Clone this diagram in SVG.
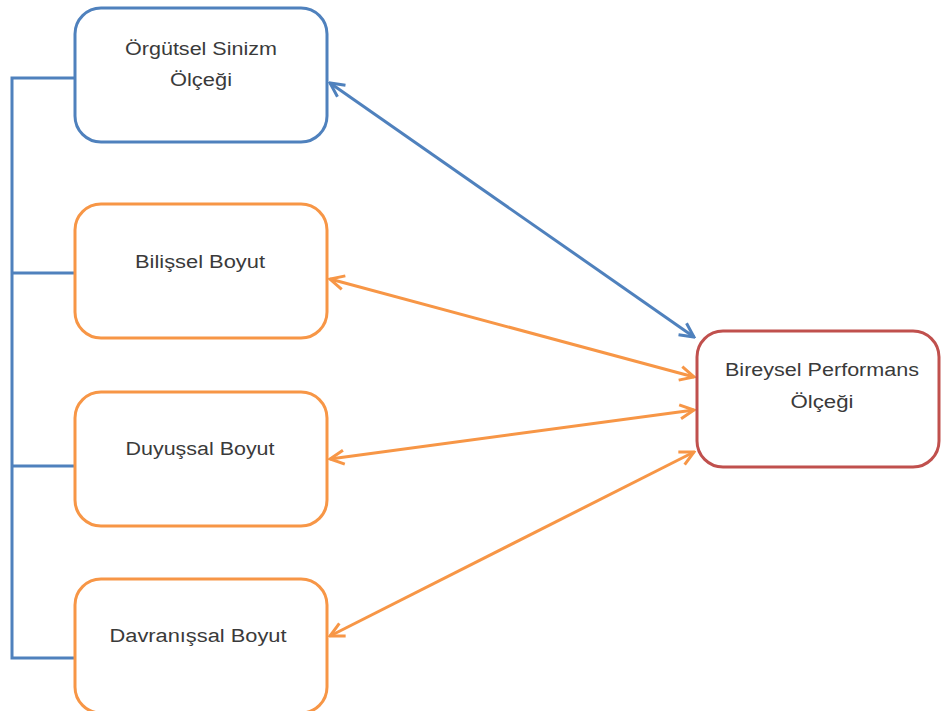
<svg xmlns="http://www.w3.org/2000/svg" width="941" height="711" viewBox="0 0 941 711">
<defs>
<style>
.box{fill:#fff;stroke-width:3}
.blue{stroke:#4f81bd}
.orange{stroke:#f79646}
.red{stroke:#c0504d}
.lbl{font-family:"Liberation Sans","DejaVu Sans",sans-serif;font-size:18px;fill:#3a3a3a;text-anchor:middle}
.bus{fill:none;stroke:#4f81bd;stroke-width:3}
.con{fill:none;stroke-width:3}
</style>
<marker id="ab" viewBox="0 0 20 20" refX="18" refY="10" markerWidth="20" markerHeight="20" markerUnits="userSpaceOnUse" orient="auto-start-reverse">
<path d="M4,3 L18,10 L4,17" fill="none" stroke="#4f81bd" stroke-width="3" stroke-linejoin="miter"/>
</marker>
<marker id="ao" viewBox="0 0 20 20" refX="18" refY="10" markerWidth="20" markerHeight="20" markerUnits="userSpaceOnUse" orient="auto-start-reverse">
<path d="M4,3 L18,10 L4,17" fill="none" stroke="#f79646" stroke-width="3" stroke-linejoin="miter"/>
</marker>
</defs>
<rect width="941" height="711" fill="#fff"/>
<g id="connectors">
<path class="bus" d="M75,78 H12 V658 H75 M12,273 H75 M12,466 H75"/>
<line class="con" stroke="#4f81bd" x1="330" y1="83" x2="694" y2="337" marker-start="url(#ab)" marker-end="url(#ab)"/>
<line class="con" stroke="#f79646" x1="330" y1="279" x2="694" y2="377" marker-start="url(#ao)" marker-end="url(#ao)"/>
<line class="con" stroke="#f79646" x1="330" y1="459" x2="694" y2="410" marker-start="url(#ao)" marker-end="url(#ao)"/>
<line class="con" stroke="#f79646" x1="330" y1="636" x2="694" y2="452" marker-start="url(#ao)" marker-end="url(#ao)"/>
</g>
<g id="orgutsel">
<rect class="box blue" x="75" y="8" width="252" height="134" rx="26"/>
<text class="lbl" x="201" y="55" textLength="152" lengthAdjust="spacingAndGlyphs">Örgütsel Sinizm</text>
<text class="lbl" x="201" y="86" textLength="62" lengthAdjust="spacingAndGlyphs">Ölçeği</text>
</g>
<g id="bilissel">
<rect class="box orange" x="75" y="204" width="252" height="134" rx="26"/>
<text class="lbl" x="200" y="268" textLength="130" lengthAdjust="spacingAndGlyphs">Bilişsel Boyut</text>
</g>
<g id="duyussal">
<rect class="box orange" x="75" y="392" width="252" height="134" rx="26"/>
<text class="lbl" x="200" y="455" textLength="149" lengthAdjust="spacingAndGlyphs">Duyuşsal Boyut</text>
</g>
<g id="davranissal">
<rect class="box orange" x="75" y="579" width="252" height="134" rx="26"/>
<text class="lbl" x="198" y="642" textLength="177" lengthAdjust="spacingAndGlyphs">Davranışsal Boyut</text>
</g>
<g id="bireysel">
<rect class="box red" x="697" y="331" width="242" height="136" rx="26"/>
<text class="lbl" x="822" y="376" textLength="194" lengthAdjust="spacingAndGlyphs">Bireysel Performans</text>
<text class="lbl" x="822" y="408" textLength="63" lengthAdjust="spacingAndGlyphs">Ölçeği</text>
</g>
</svg>
